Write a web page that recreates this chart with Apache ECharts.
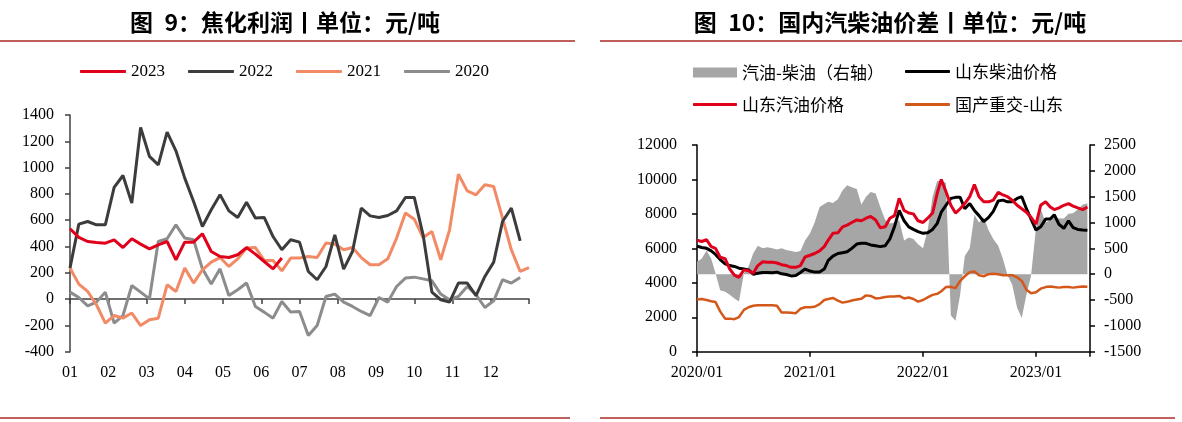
<!DOCTYPE html>
<html><head><meta charset="utf-8">
<script src="https://cdn.jsdelivr.net/npm/echarts@6.0.0/dist/echarts.min.js"></script>
<style>html,body{margin:0;padding:0;background:#fff}#c{width:1182px;height:422px}</style>
</head><body><div id="c"></div>
<script>
// ---------- Figure 9: coking profit (weekly, by year) ----------
const monthLabels = ['01','02','03','04','05','06','07','08','09','10','11','12'];
const cokeYears = ['2023','2022','2021','2020'];
const coke2023 = [535,469,438,430,425,451,392,459,418,382,413,438,299,433,433,497,362,324,316,337,392,342,286,230,312];
const coke2022 = [236,570,590,565,565,849,940,730,1305,1085,1021,1270,1128,920,742,552,679,793,671,621,737,616,621,476,375,451,433,210,147,248,489,228,362,692,633,621,636,671,773,773,489,53,-5,-23,122,122,27,172,281,590,692,443];
const coke2021 = [236,114,58,-43,-183,-125,-145,-106,-201,-157,-145,109,58,236,122,223,281,316,248,306,388,392,294,294,215,312,312,324,316,426,418,375,392,316,261,261,306,464,654,608,468,514,299,527,950,823,793,869,856,616,375,210,240];
const coke2020 = [53,12,-51,-23,53,-183,-125,103,53,2,438,459,565,464,451,230,114,230,27,71,122,-56,-99,-145,-18,-99,-94,-277,-201,20,38,-23,-56,-94,-125,12,-23,96,160,167,154,139,38,-5,20,96,33,-64,-13,147,122,164];

// ---------- Figure 10: gasoline / diesel (semi-monthly samples) ----------
const oilNames = ['汽油-柴油（右轴）','山东柴油价格','山东汽油价格','国产重交-山东'];
const oilDates = [];
for (let y = 2020; y <= 2023; y++) for (let m = 1; m <= 12; m++) for (const d of [1, 16]) {
  if (oilDates.length < 84) oilDates.push(y + '-' + String(m).padStart(2,'0') + '-' + String(d).padStart(2,'0'));
}
const spreadGD = [240,300,460,300,20,-310,-340,-400,-470,-530, 20,150,400,550,500,520,500,480,500,470, 450,430,450,650,790,1000,1300,1360,1400,1380, 1450,1620,1720,1680,1650,1350,1500,1590,1560,1300, 1050,980,1000,1050,650,710,680,580,500,850, 1500,1810,1800,1770,-800,-900,-400,350,500,1150, 1000,1100,850,680,550,300,-20,-200,-650,-850, -400,-30,900,1270,1000,1050,1100,1080,1080,1170, 1180,1250,1350,1370];
const dieselSD = [6130,6050,6000,5850,5650,5350,5100,5000,4950,4850, 4800,4750,4500,4550,4600,4600,4580,4620,4520,4480, 4400,4420,4600,4800,4680,4620,4620,4800,5300,5550, 5700,5750,5800,6000,6250,6290,6290,6200,6150,6100, 6150,6550,7260,8200,7600,7250,7100,6970,6870,6900, 7100,7450,8100,8500,8900,8960,8960,8300,8600,8200, 7900,7550,7800,8150,8750,8800,8700,8700,8900,9000, 8300,7700,7060,7250,7700,7700,7950,7400,7160,7600, 7200,7100,7060,7050];
const gasolineSD = [6480,6400,6500,6100,6000,5480,5400,4800,4450,4320, 4750,4700,4550,5000,5220,5200,5200,5150,5050,5000, 4900,4900,5000,5500,5600,5700,5850,6100,6480,6870, 6900,7250,7350,7500,7650,7600,7750,7850,7650,7200, 7250,7750,7900,8900,8200,8050,8000,7600,7500,7750, 8050,9200,10000,9300,8500,8050,8300,8600,9000,9700, 9000,8700,8700,8800,9250,9100,9000,8800,8500,8300, 8100,7800,7400,8500,8700,8400,8250,8350,8500,8600, 8450,8350,8250,8400];
const asphaltSpread = [-490,-480,-500,-525,-540,-720,-860,-860,-870,-830, -690,-640,-610,-600,-600,-600,-600,-610,-740,-740, -745,-755,-670,-640,-640,-630,-580,-500,-480,-460, -510,-550,-535,-510,-490,-475,-410,-420,-470,-460, -440,-430,-430,-420,-470,-450,-480,-530,-500,-450, -400,-380,-330,-250,-245,-270,-130,-40,40,50, -20,-40,0,10,0,-20,-20,-20,-60,-130, -300,-370,-350,-280,-250,-240,-250,-260,-250,-250, -260,-250,-240,-245];

function yearFrac(s){
  const [y,m,d] = s.split('-').map(Number);
  const t0 = Date.UTC(y,0,1), t1 = Date.UTC(y+1,0,1);
  return y + (Date.UTC(y,m-1,d) - t0) / (t1 - t0);
}
const xy = arr => arr.map((v,i) => [i, v]);
const txy = arr => arr.map((v,i) => [yearFrac(oilDates[i]), v]);
const plain = v => String(v);

const SERIF = 'Liberation Serif';
const CJK = 'Noto Sans CJK SC';
const AX = '#404040';
const RULE = '#C0605C';

const chart = echarts.init(document.getElementById('c'), null, {renderer:'canvas'});
const weekMax = 52;
const option = {
  animation: false,
  backgroundColor: '#fff',
  grid: [
    {left:70, top:115, width:459, height:236.7},
    {left:697, top:145, width:393, height:206.7}
  ],
  graphic: [
    {type:'text', x:285, y:22, style:{text:'图\u20029：焦化利润丨单位：元/吨', font:'bold 23px "Noto Sans CJK SC"', fill:'#000', textAlign:'center', textVerticalAlign:'middle'}},
    {type:'text', x:890, y:22, style:{text:'图\u200210：国内汽柴油价差丨单位：元/吨', font:'bold 23px "Noto Sans CJK SC"', fill:'#000', textAlign:'center', textVerticalAlign:'middle'}},
    {type:'rect', shape:{x:0, y:40, width:575, height:2}, style:{fill:RULE}},
    {type:'rect', shape:{x:600, y:40, width:582, height:2}, style:{fill:RULE}},
    {type:'rect', shape:{x:0, y:417, width:570, height:2}, style:{fill:RULE}},
    {type:'rect', shape:{x:600, y:417, width:575, height:2}, style:{fill:RULE}}
  ],
  legend: [
    {left:80, top:63, padding:0, itemWidth:46, itemHeight:3, itemGap:23, icon:'roundRect', selectedMode:false,
     data: cokeYears, textStyle:{fontFamily:SERIF, fontSize:17, color:'#000'}},
    {left:693, top:64, padding:0, itemWidth:44, itemHeight:10, icon:'rect', selectedMode:false,
     data:[oilNames[0]], textStyle:{fontFamily:CJK, fontSize:17, color:'#000'}},
    {left:905, top:63, padding:0, itemWidth:45, itemHeight:3, icon:'roundRect', selectedMode:false,
     data:[oilNames[1]], textStyle:{fontFamily:CJK, fontSize:17, color:'#000'}},
    {left:693, top:96, padding:0, itemWidth:44, itemHeight:3, icon:'roundRect', selectedMode:false,
     data:[oilNames[2]], textStyle:{fontFamily:CJK, fontSize:17, color:'#000'}},
    {left:905, top:96, padding:0, itemWidth:45, itemHeight:3, icon:'roundRect', selectedMode:false,
     data:[oilNames[3]], textStyle:{fontFamily:CJK, fontSize:17, color:'#000'}}
  ],
  xAxis: [
    { // zero line with ticks
      gridIndex:0, type:'value', position:'top', min:0, max:weekMax, interval:weekMax/12,
      axisLine:{show:true, onZero:true, lineStyle:{color:AX, width:1.5}},
      axisTick:{show:true, inside:true, length:5, lineStyle:{color:AX, width:1.5}},
      axisLabel:{show:false}, splitLine:{show:false}
    },
    { // month labels at bottom
      gridIndex:0, type:'value', position:'bottom', min:0, max:weekMax, interval:weekMax/12,
      axisLine:{show:false, onZero:false}, axisTick:{show:false}, splitLine:{show:false},
      axisLabel:{show:true, margin:13, fontFamily:SERIF, fontSize:16, color:'#000', showMinLabel:true, showMaxLabel:true,
        formatter: v => { const k = Math.round(v*12/weekMax); return k < 12 ? monthLabels[k] : ''; }}
    },
    {
      gridIndex:1, type:'value', position:'bottom', min:2020, max:2020+393/113, interval:1,
      axisLine:{show:true, onZero:false, lineStyle:{color:'#000', width:1.5}},
      axisTick:{show:true, length:5, lineStyle:{color:'#000', width:1.5}},
      splitLine:{show:false},
      axisLabel:{show:true, margin:13, fontFamily:SERIF, fontSize:16, color:'#000', showMinLabel:true,
        formatter: v => Math.abs(v - Math.round(v)) < 1e-6 ? Math.round(v) + '/01' : ''}
    }
  ],
  yAxis: [
    {
      gridIndex:0, type:'value', min:-400, max:1400, interval:200, position:'left',
      axisLine:{show:true, onZero:false, lineStyle:{color:AX, width:1.5}},
      axisTick:{show:true, length:5, lineStyle:{color:AX, width:1.5}},
      splitLine:{show:false},
      axisLabel:{margin:16, fontFamily:SERIF, fontSize:16, color:'#000', formatter:plain}
    },
    {
      gridIndex:1, type:'value', min:0, max:12000, interval:2000, position:'left',
      axisLine:{show:true, onZero:false, lineStyle:{color:'#000', width:1.5}},
      axisTick:{show:true, length:5, lineStyle:{color:'#000', width:1.5}},
      splitLine:{show:false},
      axisLabel:{margin:20, fontFamily:SERIF, fontSize:16, color:'#000', formatter:plain}
    },
    {
      gridIndex:1, type:'value', min:-1500, max:2500, interval:500, position:'right',
      axisLine:{show:true, onZero:false, lineStyle:{color:'#000', width:1.5}},
      axisTick:{show:true, length:5, lineStyle:{color:'#000', width:1.5}},
      splitLine:{show:false},
      axisLabel:{margin:14, fontFamily:SERIF, fontSize:16, color:'#000', formatter:plain}
    }
  ],
  series: [
    {name:'2020', type:'line', xAxisIndex:1, yAxisIndex:0, data:xy(coke2020), symbol:'none', color:'#8C8C8C', lineStyle:{width:3, color:'#8C8C8C'}},
    {name:'2021', type:'line', xAxisIndex:1, yAxisIndex:0, data:xy(coke2021), symbol:'none', color:'#F28A66', lineStyle:{width:3, color:'#F28A66'}},
    {name:'2022', type:'line', xAxisIndex:1, yAxisIndex:0, data:xy(coke2022), symbol:'none', color:'#3C3C3C', lineStyle:{width:3, color:'#3C3C3C'}},
    {name:'2023', type:'line', xAxisIndex:1, yAxisIndex:0, data:xy(coke2023), symbol:'none', color:'#E0001B', lineStyle:{width:3, color:'#E0001B'}},

    {name:oilNames[0], type:'line', xAxisIndex:2, yAxisIndex:2, data:txy(spreadGD), symbol:'none', color:'#A6A6A6',
     lineStyle:{width:0, color:'#A6A6A6'}, areaStyle:{color:'#A6A6A6', opacity:1}},
    {name:oilNames[3], type:'line', xAxisIndex:2, yAxisIndex:2, data:txy(asphaltSpread), symbol:'none', color:'#D4581A', lineStyle:{width:2.5, color:'#D4581A'}},
    {name:oilNames[1], type:'line', xAxisIndex:2, yAxisIndex:1, data:txy(dieselSD), symbol:'none', color:'#000', lineStyle:{width:3, color:'#000'}},
    {name:oilNames[2], type:'line', xAxisIndex:2, yAxisIndex:1, data:txy(gasolineSD), symbol:'none', color:'#E0001B', lineStyle:{width:3, color:'#E0001B'}}
  ]
};
chart.setOption(option);
</script>
</body></html>
